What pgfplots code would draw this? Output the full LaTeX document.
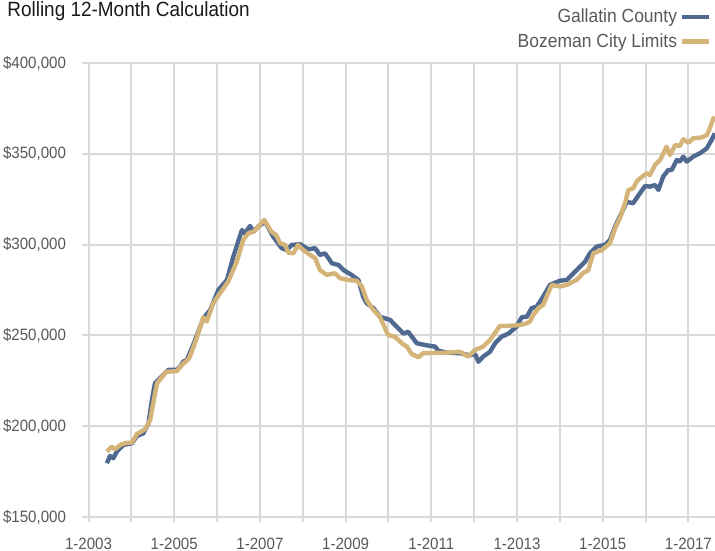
\documentclass[border=0pt]{standalone}
\usepackage{pgfplots}
\pgfplotsset{compat=1.18}
\usepackage{fontspec}
\setmainfont{Liberation Sans}[FakeStretch=0.92]
\definecolor{gal}{HTML}{4F6991}
\definecolor{boz}{HTML}{D4B478}
\definecolor{gridc}{HTML}{D9D9D9}
\definecolor{ticktext}{HTML}{595959}
\definecolor{titletext}{HTML}{1A1A1A}
\begin{document}
\begin{tikzpicture}
\path[use as bounding box] (-41pt,-16.5pt) rectangle (316.5pt,258.5pt);
\begin{axis}[
  scale only axis, width=316.5pt, height=227pt,
  xmin=2002.848, xmax=2017.621, ymin=150000, ymax=400000,
  scaled y ticks=false,
  xtick={2003,2005,...,2017},
  xticklabels={1-2003,1-2005,1-2007,1-2009,1-2011,1-2013,1-2015,1-2017},
  minor xtick={2004,2006,...,2016},
  ytick={150000,200000,...,400000},
  yticklabels={{\$150,000},{\$200,000},{\$250,000},{\$300,000},{\$350,000},{\$400,000}},
  grid=both,
  grid style={gridc, line width=1pt},
  minor grid style={gridc, line width=1pt},
  axis x line*=bottom, axis y line*=left,
  axis line style={-},
  x axis line style={gridc, line width=1.2pt},
  y axis line style={draw=none},
  tick align=outside,
  major tick length=2.5pt, minor tick length=2.5pt,
  ytick style={draw=none},
  xtick style={gridc, line width=1pt},
  minor x tick style={gridc, line width=1pt},
  ticklabel style={font=\fontsize{8.2}{9.6}\selectfont, text=ticktext},
  yticklabel style={xshift=-2pt},
  xticklabel style={yshift=-4.5pt},
  legend style={at={(0.995,1.021)}, anchor=south east, draw=none, fill=none,
    font=\fontsize{9.5}{11}\selectfont, text=ticktext, row sep=1pt,
    inner sep=0pt, nodes={inner sep=1.5pt}},
  legend cell align=right,
  legend plot pos=right,
  legend image code/.code={\draw[#1, line width=2.2pt] (0pt,0pt) -- (13.5pt,0pt);},
]
\addplot[gal, line width=2.2pt, line join=round] coordinates {
(2003.43,179600)(2003.50,183600)(2003.58,182400)(2003.66,186000)(2003.81,189700)(2004.01,190600)(2004.13,194600)(2004.28,196100)(2004.40,201600)(2004.48,214400)(2004.55,223600)(2004.67,226400)(2004.86,231000)(2005.06,231000)(2005.14,232800)(2005.21,235500)(2005.29,236500)(2005.33,238300)(2005.49,247500)(2005.68,259400)(2005.84,264000)(2006.03,275000)(2006.23,280500)(2006.38,293400)(2006.58,308000)(2006.65,306200)(2006.77,310300)(2006.85,307100)(2006.96,309900)(2007.12,312600)(2007.31,304400)(2007.51,298000)(2007.63,297000)(2007.74,299800)(2007.94,300200)(2008.13,297400)(2008.29,298000)(2008.40,294300)(2008.52,295200)(2008.68,289700)(2008.83,288800)(2008.95,286000)(2009.14,283300)(2009.30,280500)(2009.41,271300)(2009.49,267700)(2009.65,265000)(2009.80,260300)(2010.04,258500)(2010.19,254800)(2010.35,251000)(2010.46,252000)(2010.66,245700)(2010.85,244700)(2011.09,243800)(2011.16,241600)(2011.36,240500)(2011.67,240200)(2011.90,239000)(2012.02,239800)(2012.10,235500)(2012.21,238300)(2012.37,241000)(2012.49,245700)(2012.64,249300)(2012.80,251000)(2012.99,254800)(2013.11,260000)(2013.23,260300)(2013.34,265000)(2013.46,265800)(2013.61,271300)(2013.77,277800)(2014.00,280100)(2014.16,280500)(2014.28,283300)(2014.47,287800)(2014.59,290600)(2014.70,295200)(2014.86,298900)(2015.05,299800)(2015.17,302500)(2015.29,309900)(2015.40,315400)(2015.56,323500)(2015.71,322800)(2015.87,328300)(2015.99,332300)(2016.10,331900)(2016.22,332800)(2016.30,330100)(2016.41,337400)(2016.53,341100)(2016.61,341100)(2016.73,346600)(2016.80,345700)(2016.88,348400)(2016.96,345700)(2017.11,348400)(2017.27,350300)(2017.43,353000)(2017.54,357600)(2017.62,361300)
};
\addlegendentry{Gallatin County}
\addplot[boz, line width=2.2pt, line join=round] coordinates {
(2003.43,186000)(2003.54,188700)(2003.62,187300)(2003.74,189700)(2003.89,190900)(2004.01,190900)(2004.13,195700)(2004.32,198300)(2004.44,203400)(2004.52,214000)(2004.60,223600)(2004.81,230000)(2005.06,230300)(2005.18,233700)(2005.35,237400)(2005.51,247500)(2005.68,260000)(2005.76,257600)(2005.91,267700)(2006.07,273200)(2006.26,279600)(2006.46,290600)(2006.61,302500)(2006.73,306200)(2006.85,307100)(2007.00,310800)(2007.10,313600)(2007.27,307100)(2007.38,305300)(2007.47,300800)(2007.59,299800)(2007.66,295600)(2007.78,295200)(2007.89,299800)(2008.01,297000)(2008.17,294300)(2008.29,292500)(2008.40,286000)(2008.56,283300)(2008.75,284200)(2008.87,281500)(2009.06,280500)(2009.26,280100)(2009.38,276900)(2009.49,269500)(2009.65,264000)(2009.80,260300)(2009.99,250200)(2010.15,249300)(2010.31,245700)(2010.43,243800)(2010.54,239800)(2010.70,238000)(2010.81,240200)(2011.36,240500)(2011.67,241000)(2011.86,238300)(2012.02,242000)(2012.21,243800)(2012.37,247500)(2012.60,255200)(2012.76,255200)(2013.07,255700)(2013.23,256700)(2013.30,257600)(2013.38,261300)(2013.50,265000)(2013.61,266800)(2013.81,277800)(2014.00,276900)(2014.16,277800)(2014.39,280500)(2014.55,284500)(2014.66,285700)(2014.78,295200)(2014.98,297000)(2015.17,300800)(2015.29,309000)(2015.40,314500)(2015.52,322800)(2015.60,330100)(2015.71,331000)(2015.79,334600)(2015.87,336500)(2016.03,339300)(2016.10,338300)(2016.22,343800)(2016.34,346600)(2016.49,353900)(2016.57,349300)(2016.69,354800)(2016.80,354300)(2016.88,358000)(2017.00,356100)(2017.11,358500)(2017.31,359000)(2017.43,360300)(2017.50,364000)(2017.58,369500)(2017.62,370000)
};
\addlegendentry{Bozeman City Limits}
\end{axis}
\node[anchor=north west, inner sep=0pt, font=\fontsize{10.3}{12}\selectfont, text=titletext] at (-37.5pt,258pt) {Rolling 12-Month Calculation};
\end{tikzpicture}
\end{document}
